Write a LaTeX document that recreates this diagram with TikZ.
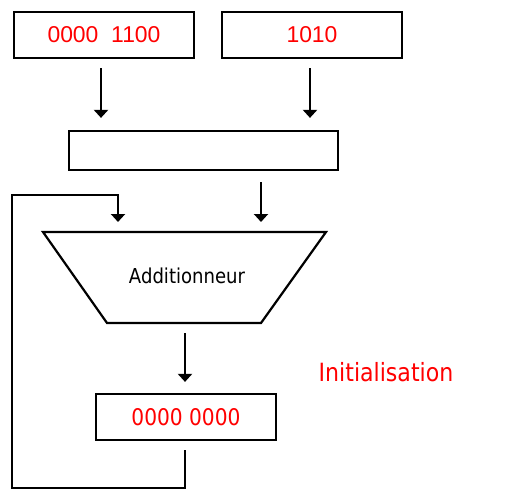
\documentclass[tikz,border=0pt]{standalone}
\usepackage{fontspec}
\setmainfont{Liberation Sans}
\newfontfamily\tahoma[FakeStretch=0.88]{DejaVu Sans}
\usetikzlibrary{positioning, arrows.meta}
\definecolor{regred}{RGB}{255,0,0}
\tikzset{
  reg/.style={rectangle, draw, line width=2.2bp, inner sep=0pt, minimum width=180bp, minimum height=46bp},
  flow/.style={line width=2bp, -{Triangle[width=14bp,length=8bp]}}
}

\begin{document}
\begin{tikzpicture}[x=1bp, y=-1bp]
    \useasboundingbox (0,0) rectangle (512,504);
    \node (inA)  at (104,35) [reg] {\fontsize{23}{26}\selectfont\color{regred}0000\ \ 1100};
    \node (inB)  at (312,35) [reg] {\fontsize{23}{26}\selectfont\color{regred}1010};
    \node (mux)  at (203.5,150.5) [reg, minimum width=269bp, minimum height=39bp] {};
    % adder outline
    \coordinate (addtop) at (184.5,232);
    \coordinate (addbot) at (184.5,323);
    \draw[line width=2.2bp] (43,232) -- (326,232) -- (261,323) -- (107,323) -- cycle;
    \node (add)  at (187,276) {\tahoma\fontsize{20.6}{24}\selectfont Additionneur};
    \node (acc)  at (186,417) [reg] {\tahoma\fontsize{23}{26}\selectfont\color{regred}0000 0000};
    \node (init) at (386,372) {\tahoma\fontsize{25.2}{28}\selectfont\color{regred}Initialisation};
    \coordinate (loop) at (12,488);
    \draw[flow] ([xshift=-3bp,yshift=-9bp]inA.south) -- ([xshift=-3bp,yshift=12bp]inA.south |- mux.north);
    \draw[flow] ([xshift=-2bp,yshift=-9bp]inB.south) -- ([xshift=-2bp,yshift=12bp]inB.south |- mux.north);
    \draw[flow] ([xshift=57.5bp,yshift=-11bp]mux.south) -- ([xshift=57.5bp,yshift=10bp]mux.south |- addtop);
    \draw[flow] ([xshift=0.5bp,yshift=-10bp]addbot) -- ([xshift=0.5bp,yshift=11bp]addbot |- acc.north);
    \draw[flow] ([xshift=-1bp,yshift=-9bp]acc.south) |- (loop) |- (118,195) -- ([yshift=10bp]118,0 |- addtop);
\end{tikzpicture}
\end{document}
